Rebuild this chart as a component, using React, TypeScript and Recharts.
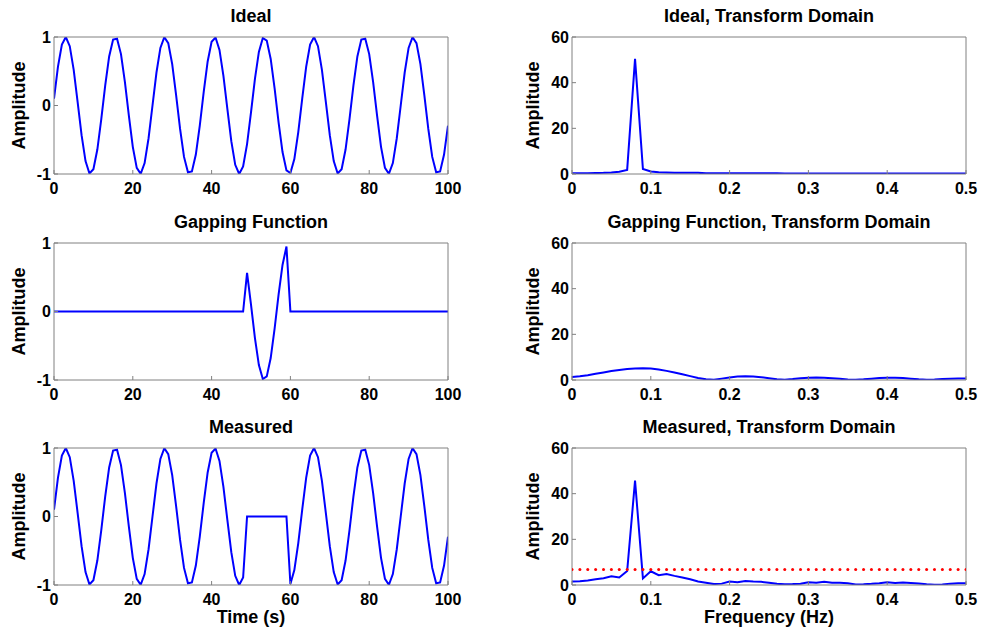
import React from "react";
import { LineChart, Line, XAxis, YAxis } from "recharts";

// time domain, one sample per second (0..100 s)
const ideal = [
  0.1, 0.563, 0.89, 1.0, 0.866, 0.521, 0.05, -0.434, -0.812, -0.992,
  -0.931, -0.643, -0.198, 0.295, 0.716, 0.963, 0.975, 0.75, 0.342, -0.149,
  -0.604, -0.911, -0.997, -0.84, -0.478, 0.0, 0.478, 0.84, 0.997, 0.911,
  0.604, 0.149, -0.342, -0.75, -0.975, -0.963, -0.716, -0.295, 0.198, 0.643,
  0.931, 0.992, 0.812, 0.434, -0.05, -0.521, -0.866, -1.0, -0.89, -0.563,
  -0.1, 0.388, 0.782, 0.985, 0.948, 0.68, 0.247, -0.247, -0.68, -0.948,
  -0.985, -0.782, -0.388, 0.1, 0.563, 0.89, 1.0, 0.866, 0.521, 0.05,
  -0.434, -0.812, -0.992, -0.931, -0.643, -0.198, 0.295, 0.716, 0.963, 0.975,
  0.75, 0.342, -0.149, -0.604, -0.911, -0.997, -0.84, -0.478, 0.0, 0.478,
  0.84, 0.997, 0.911, 0.604, 0.149, -0.342, -0.75, -0.975, -0.963, -0.716,
  -0.295,
];

const gapping = [
  0, 0, 0, 0, 0, 0, 0, 0, 0, 0,
  0, 0, 0, 0, 0, 0, 0, 0, 0, 0,
  0, 0, 0, 0, 0, 0, 0, 0, 0, 0,
  0, 0, 0, 0, 0, 0, 0, 0, 0, 0,
  0, 0, 0, 0, 0, 0, 0, 0, 0, 0.563,
  0.1, -0.388, -0.782, -0.985, -0.948, -0.68, -0.247, 0.247, 0.68, 0.948,
  0, 0, 0, 0, 0, 0, 0, 0, 0, 0,
  0, 0, 0, 0, 0, 0, 0, 0, 0, 0,
  0, 0, 0, 0, 0, 0, 0, 0, 0, 0,
  0, 0, 0, 0, 0, 0, 0, 0, 0, 0,
  0,
];

const measured = [
  0.1, 0.563, 0.89, 1.0, 0.866, 0.521, 0.05, -0.434, -0.812, -0.992,
  -0.931, -0.643, -0.198, 0.295, 0.716, 0.963, 0.975, 0.75, 0.342, -0.149,
  -0.604, -0.911, -0.997, -0.84, -0.478, 0.0, 0.478, 0.84, 0.997, 0.911,
  0.604, 0.149, -0.342, -0.75, -0.975, -0.963, -0.716, -0.295, 0.198, 0.643,
  0.931, 0.992, 0.812, 0.434, -0.05, -0.521, -0.866, -1.0, -0.89, 0,
  0, 0, 0, 0, 0, 0, 0, 0, 0, 0,
  -0.985, -0.782, -0.388, 0.1, 0.563, 0.89, 1.0, 0.866, 0.521, 0.05,
  -0.434, -0.812, -0.992, -0.931, -0.643, -0.198, 0.295, 0.716, 0.963, 0.975,
  0.75, 0.342, -0.149, -0.604, -0.911, -0.997, -0.84, -0.478, 0.0, 0.478,
  0.84, 0.997, 0.911, 0.604, 0.149, -0.342, -0.75, -0.975, -0.963, -0.716,
  -0.295,
];

// transform domain, bins every 0.01 Hz (0..0.5 Hz)
const idealSpectrum = [
  0.3, 0.3, 0.3, 0.4, 0.5, 0.7, 1.0, 1.8, 50.4, 2.2,
  1.1, 0.8, 0.7, 0.6, 0.6, 0.5, 0.5, 0.3, 0.3, 0.3,
  0.3, 0.3, 0.3, 0.3, 0.3, 0.3, 0.3, 0.2, 0.2, 0.2,
  0.2, 0.2, 0.2, 0.2, 0.2, 0.2, 0.2, 0.2, 0.2, 0.2,
  0.2, 0.2, 0.2, 0.2, 0.2, 0.2, 0.2, 0.2, 0.2, 0.2,
  0.2,
];

const gappingSpectrum = [
  1.3, 1.6, 2.1, 2.7, 3.3, 3.9, 4.4, 4.8, 5.0, 5.1,
  5.0, 4.6, 4.0, 3.3, 2.5, 1.7, 0.9, 0.3, 0.1, 0.6,
  1.1, 1.5, 1.6, 1.5, 1.2, 0.8, 0.3, 0.1, 0.4, 0.8,
  1.0, 1.1, 1.0, 0.8, 0.5, 0.2, 0.1, 0.3, 0.6, 0.9,
  1.0, 1.0, 0.9, 0.6, 0.3, 0.1, 0.2, 0.4, 0.6, 0.7,
  0.7,
];

const measuredSpectrum = [
  1.5, 1.6, 2.0, 2.5, 3.0, 3.8, 3.3, 6.1, 45.7, 2.9,
  6.0, 4.3, 4.8, 4.0, 3.3, 2.5, 1.5, 1.0, 0.4, 0.6,
  1.5, 1.2, 1.8, 1.5, 1.4, 1.0, 0.5, 0.3, 0.4, 0.6,
  1.2, 1.0, 1.4, 1.0, 1.0, 0.8, 0.2, 0.3, 0.5, 0.8,
  1.2, 0.9, 1.1, 0.9, 0.7, 0.3, 0.1, 0.2, 0.6, 0.8,
  0.8,
];

const threshold = 6.8;

const timeTicks = [0, 20, 40, 60, 80, 100];
const ampTicks = [-1, 0, 1];
const freqTicks = [0, 0.1, 0.2, 0.3, 0.4, 0.5];
const specTicks = [0, 20, 40, 60];

const timeRows = ideal.map((v, i) => ({
  t: i,
  ideal: v,
  gapping: gapping[i],
  measured: measured[i],
}));

const freqRows = idealSpectrum.map((v, i) => ({
  f: i / 100,
  ideal: v,
  gapping: gappingSpectrum[i],
  measured: measuredSpectrum[i],
  threshold,
}));

const PLOT_W = 394;
const PLOT_H = 137;
const BOX = "#808080";
const tickStyle = { fill: "#000", fontSize: 16, fontWeight: "bold" };
const labelStyle = { fill: "#000", fontSize: 18, fontWeight: "bold" };

function Panel({
  left,
  top,
  yWidth,
  data,
  xKey,
  series,
  xDomain,
  xTicks,
  yDomain,
  yTicks,
  title,
  xLabel,
  dots,
}: {
  left: number;
  top: number;
  yWidth: number;
  data: any[];
  xKey: string;
  series: string;
  xDomain: [number, number];
  xTicks: number[];
  yDomain: [number, number];
  yTicks: number[];
  title: string;
  xLabel?: string;
  dots?: boolean;
}) {
  const width = yWidth + PLOT_W + 16;
  const height = 30 + PLOT_H + 50;
  return (
    <div style={{ position: "absolute", left: left - yWidth, top: top - 30 }}>
      <LineChart
        width={width}
        height={height}
        data={data}
        margin={{ top: 29, right: 15, left: 0, bottom: 20 }}
      >
        <XAxis
          dataKey={xKey}
          type="number"
          domain={xDomain}
          ticks={xTicks}
          interval={0}
          allowDataOverflow
          height={30}
          stroke={BOX}
          tickSize={-4}
          tickMargin={13}
          tick={tickStyle}
          label={
            xLabel
              ? { value: xLabel, position: "insideTop", offset: 25, ...labelStyle }
              : undefined
          }
        />
        <XAxis
          xAxisId="top"
          orientation="top"
          dataKey={xKey}
          type="number"
          domain={xDomain}
          ticks={xTicks}
          interval={0}
          allowDataOverflow
          height={1}
          stroke={BOX}
          tickSize={-4}
          tick={false}
          label={{ value: title, position: "top", offset: 14, ...labelStyle }}
        />
        <YAxis
          type="number"
          domain={yDomain}
          ticks={yTicks}
          interval={0}
          allowDataOverflow
          width={yWidth}
          stroke={BOX}
          tickSize={-4}
          tickMargin={7}
          tick={tickStyle}
          label={{ value: "Amplitude", angle: -90, position: "center", ...labelStyle }}
        />
        <YAxis
          yAxisId="right"
          orientation="right"
          type="number"
          domain={yDomain}
          ticks={yTicks}
          interval={0}
          allowDataOverflow
          width={1}
          stroke={BOX}
          tickSize={-4}
          tick={false}
        />
        <Line
          type="linear"
          dataKey={series}
          stroke="#0000ff"
          strokeWidth={2}
          dot={false}
          isAnimationActive={false}
        />
        {dots && (
          <Line
            type="linear"
            dataKey="threshold"
            stroke="none"
            dot={{ r: 1.5, fill: "#ff0000", stroke: "none" }}
            isAnimationActive={false}
          />
        )}
      </LineChart>
    </div>
  );
}

export default function App() {
  const rows = [37, 243, 448];
  return (
    <div
      style={{
        position: "absolute",
        left: 0,
        top: 0,
        width: 982,
        height: 631,
        background: "#fff",
        overflow: "hidden",
        fontFamily: "'Liberation Sans', Arial, sans-serif",
      }}
    >
      <Panel left={54} top={rows[0]} yWidth={70} data={timeRows} xKey="t" series="ideal"
        xDomain={[0, 100]} xTicks={timeTicks} yDomain={[-1, 1]} yTicks={ampTicks} title="Ideal" />
      <Panel left={54} top={rows[1]} yWidth={70} data={timeRows} xKey="t" series="gapping"
        xDomain={[0, 100]} xTicks={timeTicks} yDomain={[-1, 1]} yTicks={ampTicks} title="Gapping Function" />
      <Panel left={54} top={rows[2]} yWidth={70} data={timeRows} xKey="t" series="measured"
        xDomain={[0, 100]} xTicks={timeTicks} yDomain={[-1, 1]} yTicks={ampTicks} title="Measured"
        xLabel="Time (s)" />
      <Panel left={572} top={rows[0]} yWidth={78} data={freqRows} xKey="f" series="ideal"
        xDomain={[0, 0.5]} xTicks={freqTicks} yDomain={[0, 60]} yTicks={specTicks}
        title="Ideal, Transform Domain" />
      <Panel left={572} top={rows[1]} yWidth={78} data={freqRows} xKey="f" series="gapping"
        xDomain={[0, 0.5]} xTicks={freqTicks} yDomain={[0, 60]} yTicks={specTicks}
        title="Gapping Function, Transform Domain" />
      <Panel left={572} top={rows[2]} yWidth={78} data={freqRows} xKey="f" series="measured"
        xDomain={[0, 0.5]} xTicks={freqTicks} yDomain={[0, 60]} yTicks={specTicks}
        title="Measured, Transform Domain" xLabel="Frequency (Hz)" dots />
    </div>
  );
}
